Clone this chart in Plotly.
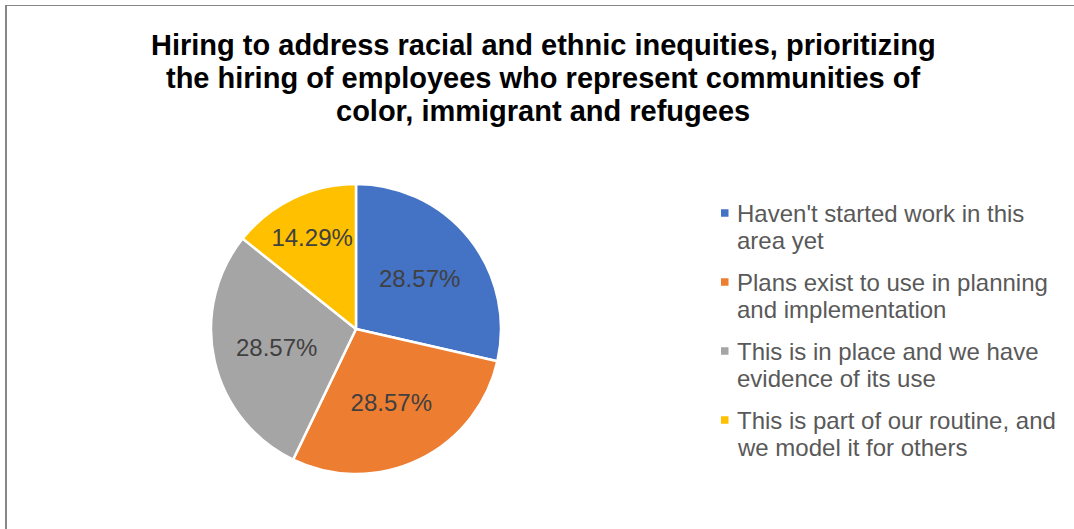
import plotly.graph_objects as go

# Survey responses for one practice area
CATEGORIES = [
    "Haven't started work in this<br>area yet",
    "Plans exist to use in planning<br>and implementation",
    "This is in place and we have<br>evidence of its use",
    "This is part of our routine, and<br>we model it for others",
]
RESPONSES = [2, 2, 2, 1]
COLORS = ["#4472C4", "#ED7D31", "#A5A5A5", "#FFC000"]

TITLE_LINES = [
    "Hiring to address racial and ethnic inequities, prioritizing",
    "the hiring of employees who represent communities of",
    "color, immigrant and refugees",
]

W, H = 1074, 529
FONT = "Liberation Sans, Arial, sans-serif"


def px(x):
    return x / W


def py(y):
    return 1 - y / H


# pie geometry in pixels
CX, CY, R = 356, 329, 145

fig = go.Figure()
fig.add_trace(go.Pie(
    labels=[c.replace("<br>", " ") for c in CATEGORIES],
    values=RESPONSES,
    marker=dict(colors=COLORS, line=dict(color="white", width=2.5)),
    sort=False,
    direction="clockwise",
    rotation=0,
    texttemplate="%{percent:.2%}",
    textposition="inside",
    insidetextorientation="horizontal",
    textfont=dict(family=FONT, size=24, color="#404040"),
    domain=dict(x=[px(CX - R), px(CX + R)], y=[py(CY + R), py(CY - R)]),
    showlegend=False,
    hoverinfo="label+percent",
))

annotations = []
# chart title, one annotation per line for tight line spacing
TITLE_Y = [45, 78, 111]
for line, y in zip(TITLE_LINES, TITLE_Y):
    annotations.append(dict(
        text=line, x=px(543), y=py(y), xref="paper", yref="paper",
        xanchor="center", yanchor="middle", showarrow=False,
        font=dict(family=FONT, size=29, color="#000000", weight="bold"),
    ))

# legend entries
shapes = []
LEG_X, LEG_Y0, ITEM_GAP, LINE_GAP = 734.5, 213, 69, 27
for i, (cat, col) in enumerate(zip(CATEGORIES, COLORS)):
    y0 = LEG_Y0 + i * ITEM_GAP
    shapes.append(dict(
        type="rect", xref="paper", yref="paper",
        x0=px(721), x1=px(728.5), y0=py(y0 - 3.75), y1=py(y0 + 3.75),
        fillcolor=col, line=dict(width=0),
    ))
    for j, part in enumerate(cat.split("<br>")):
        annotations.append(dict(
            text=part, x=px(LEG_X), y=py(y0 + j * LINE_GAP),
            xref="paper", yref="paper", xanchor="left", yanchor="middle",
            showarrow=False,
            font=dict(family=FONT, size=24, color="#595959"),
        ))

# chart frame (left and top edges)
shapes.append(dict(type="line", xref="paper", yref="paper",
                   x0=px(6), x1=px(6), y0=0, y1=py(5),
                   line=dict(color="#868686", width=2)))
shapes.append(dict(type="line", xref="paper", yref="paper",
                   x0=px(5), x1=1, y0=py(5.5), y1=py(5.5),
                   line=dict(color="#868686", width=1)))

fig.update_layout(
    width=W, height=H,
    margin=dict(l=0, r=0, t=0, b=0),
    paper_bgcolor="white",
    plot_bgcolor="white",
    annotations=annotations,
    shapes=shapes,
    uniformtext=dict(minsize=24, mode="show"),
)

fig.write_html("out.html")
